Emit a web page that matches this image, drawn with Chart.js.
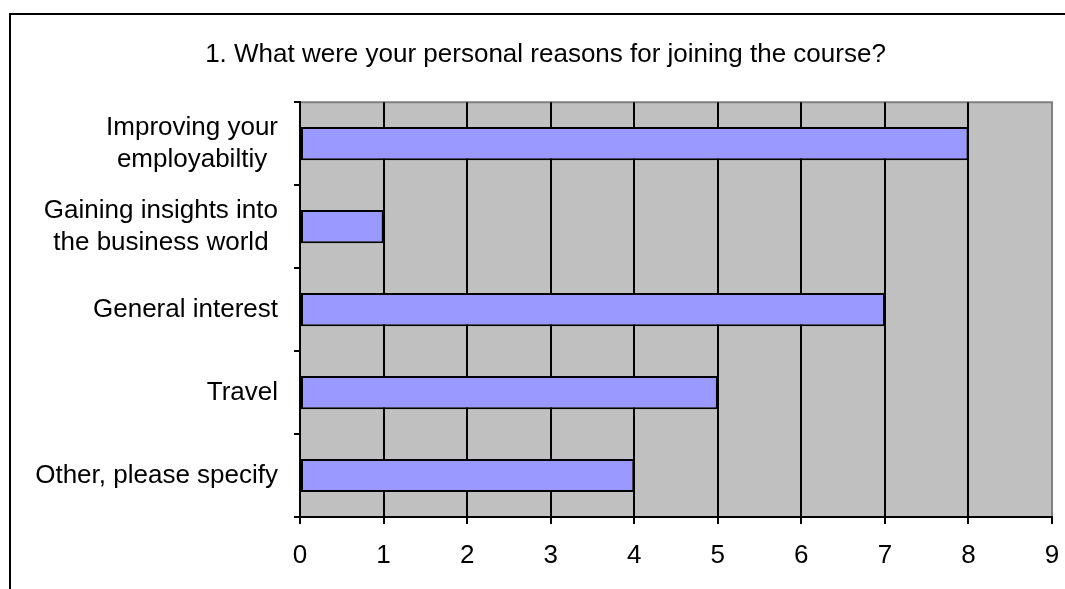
<!DOCTYPE html>
<html lang="en">
<head>
    <meta charset="UTF-8">
    <title>Personal reasons for joining the course</title>
    <script src="https://cdn.jsdelivr.net/npm/chart.js"></script>
    <style>
        html, body {
            margin: 0;
            padding: 0;
            background: #fff;
            overflow: hidden;
        }
        #frame {
            position: absolute;
            left: 9px;
            top: 13px;
            width: 1069px;
            height: 590px;
            border: 2px solid #000;
        }
        #chart {
            display: block;
        }
    </style>
</head>
<body>
    <div id="frame">
        <canvas id="chart" width="1069" height="590"></canvas>
    </div>
<script>
    // data
    var title = "1. What were your personal reasons for joining the course?";
    var reasons = [
        ["Improving your", "employabiltiy"],
        ["Gaining insights into", "the business world"],
        "General interest",
        "Travel",
        "Other, please specify"
    ];
    var counts = [8, 1, 7, 5, 4];
    var xMax = 9;

    var fam = "'Liberation Sans', Arial, sans-serif";

    // grey plot background + grey top/right edge
    var plotBg = {
        id: 'plotBg',
        beforeDraw: function(c) {
            var a = c.chartArea, g = c.ctx;
            g.save();
            g.fillStyle = '#C0C0C0';
            g.fillRect(a.left, a.top, a.right - a.left, a.bottom - a.top);
            g.strokeStyle = '#808080';
            g.lineWidth = 2;
            g.beginPath();
            g.moveTo(a.left, a.top);
            g.lineTo(a.right, a.top);
            g.lineTo(a.right, a.bottom);
            g.stroke();
            g.restore();
        }
    };

    // category labels: block right-aligned to the axis, lines centred within a block (Excel style)
    var catLabels = {
        id: 'catLabels',
        afterDraw: function(c) {
            var y = c.scales.y, g = c.ctx;
            var right = c.chartArea.left - 22;
            var lh = 32.3;
            g.save();
            g.font = "26px " + fam;
            g.fillStyle = '#000';
            g.textBaseline = 'middle';
            g.textAlign = 'center';
            c.data.labels.forEach(function(lab, i) {
                var lines = Array.isArray(lab) ? lab : [lab];
                var w = Math.max.apply(null, lines.map(function(s) { return g.measureText(s).width; }));
                var cy = y.getPixelForValue(i);
                lines.forEach(function(s, k) {
                    g.fillText(s, right - w / 2, cy + (k - (lines.length - 1) / 2) * lh);
                });
            });
            g.restore();
        }
    };

    var chart = new Chart(document.getElementById('chart'), {
        type: 'bar',
        data: {
            labels: reasons,
            datasets: [{
                data: counts,
                backgroundColor: '#9999FF',
                borderColor: '#000',
                borderWidth: 2,
                borderSkipped: false,
                barPercentage: 0.4,
                categoryPercentage: 1
            }]
        },
        plugins: [plotBg, catLabels],
        options: {
            indexAxis: 'y',
            responsive: false,
            animation: false,
            layout: {padding: {left: 28, right: 28, top: 0, bottom: 0}},
            plugins: {
                legend: {display: false},
                tooltip: {enabled: false},
                title: {
                    display: true,
                    text: title,
                    color: '#000',
                    font: {family: fam, size: 26, weight: 'normal', lineHeight: 1.2},
                    padding: {top: 24, bottom: 32}
                }
            },
            scales: {
                x: {
                    min: 0,
                    max: xMax,
                    ticks: {stepSize: 1, color: '#000', font: {family: fam, size: 26, lineHeight: 1.2}, padding: 16},
                    grid: {
                        color: function(ctx) { return ctx.index === xMax ? '#808080' : '#000'; },
                        lineWidth: 2,
                        tickColor: '#000',
                        tickLength: 7
                    },
                    border: {color: '#000', width: 2},
                    afterFit: function(s) { s.height = 88; }
                },
                y: {
                    ticks: {display: false},
                    grid: {
                        drawOnChartArea: false,
                        color: '#000',
                        lineWidth: 2,
                        tickLength: 6,
                        offset: true
                    },
                    border: {color: '#000', width: 2},
                    afterFit: function(s) { s.width = 261; }
                }
            }
        }
    });
</script>
</body>
</html>
